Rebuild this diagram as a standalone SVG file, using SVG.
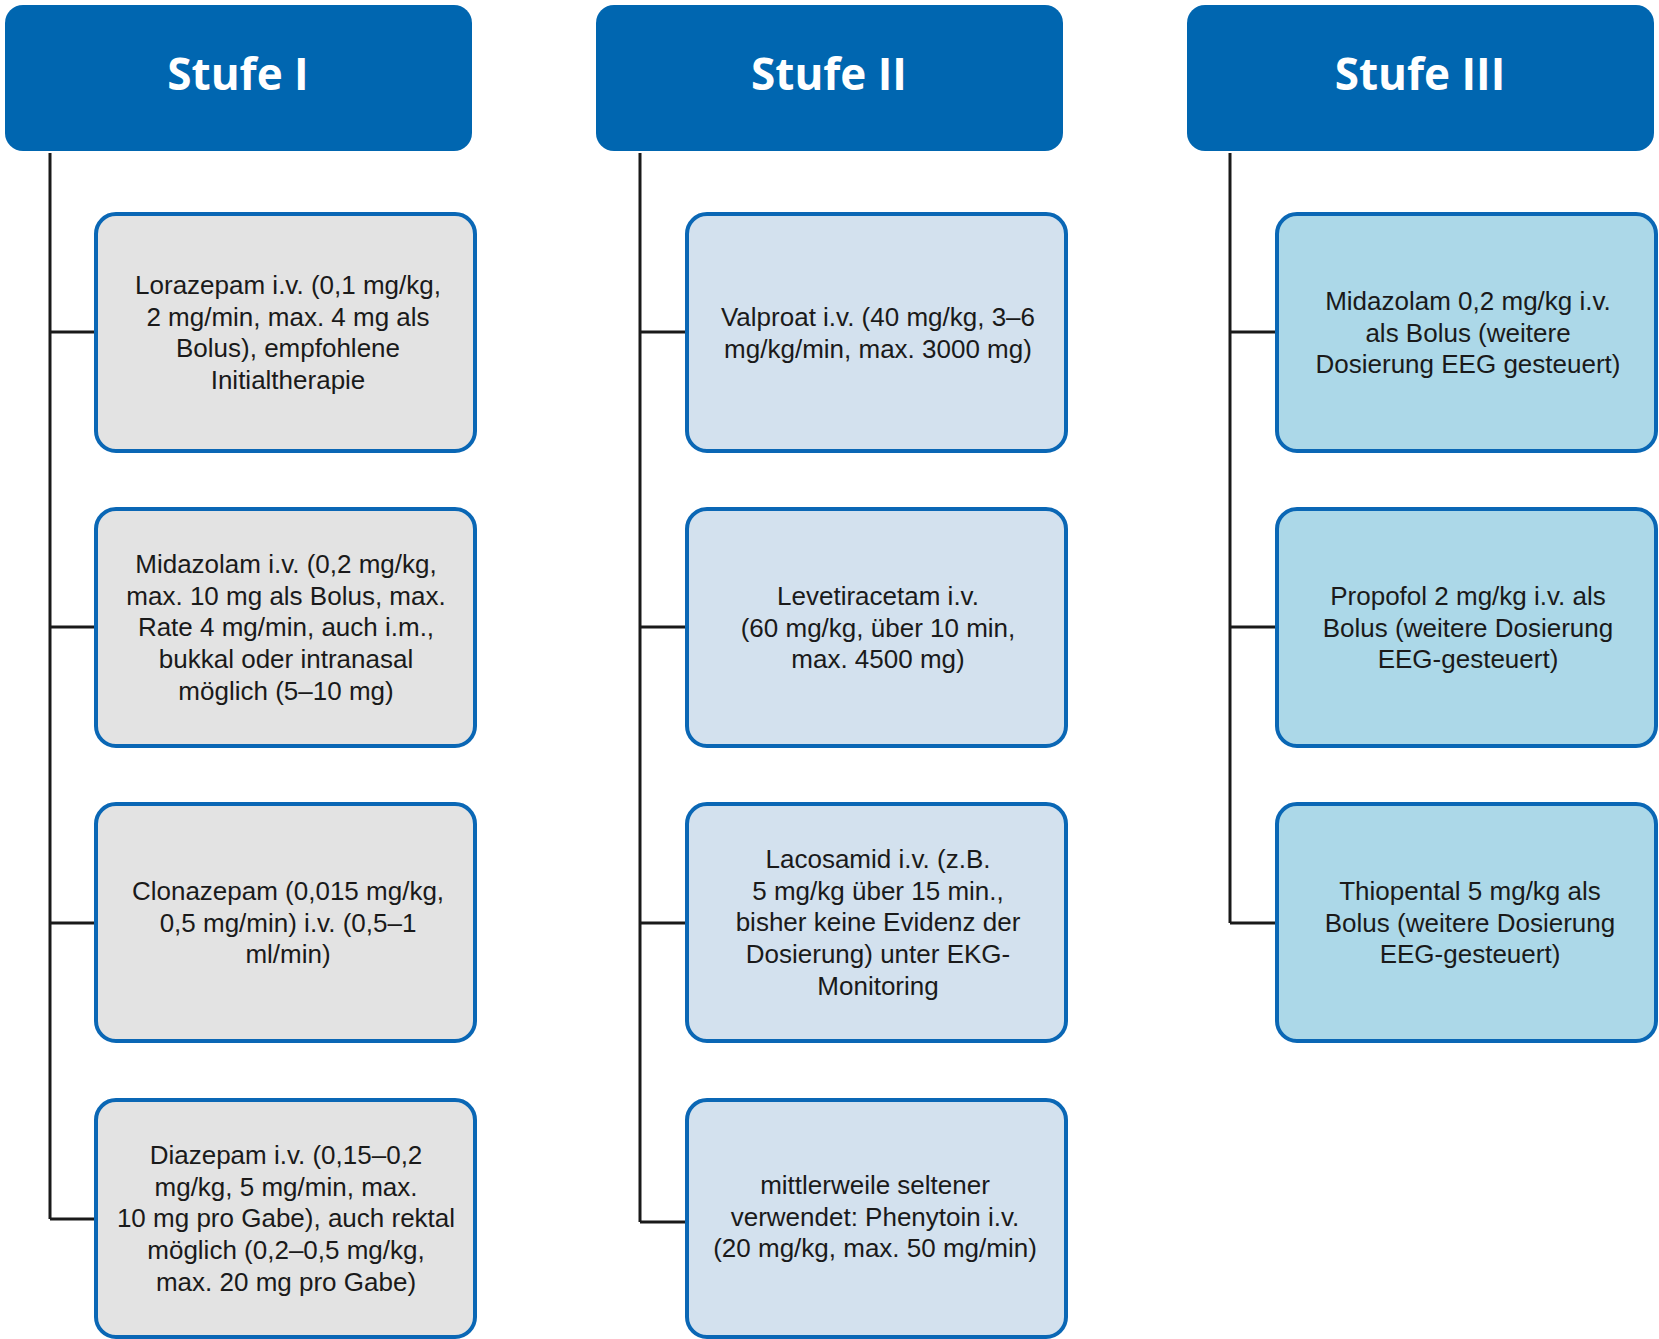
<svg xmlns="http://www.w3.org/2000/svg" width="1659" height="1339" viewBox="0 0 1659 1339">
<style>
.h{fill:#0066b0}
.ht{fill:#fff;font:bold 44px "Open Sans","Liberation Sans",sans-serif;text-anchor:middle}
.b{stroke:#0a67b5;stroke-width:4}
.g{fill:#e3e3e3}.l{fill:#d3e1ee}.c{fill:#acd8e8}
.t{fill:#1a1a1a;font:26px "Liberation Sans",sans-serif;text-anchor:middle}
.k{stroke:#1a1a1a;stroke-width:3;fill:none}
</style>
<g id="connectors">
<path class="k" d="M50 153V1219M50 332H96M50 627H96M50 923H96M50 1219H96"/>
<path class="k" d="M640 153V1222M640 332H687M640 627H687M640 923H687M640 1222H687"/>
<path class="k" d="M1230 153V923M1230 332H1277M1230 627H1277M1230 923H1277"/>
</g>
<g id="h1"><rect class="h" x="5" y="5" width="467" height="146" rx="18"/><text class="ht" x="238" y="90">Stufe I</text></g>
<g id="h2"><rect class="h" x="596" y="5" width="467" height="146" rx="18"/><text class="ht" x="829" y="90">Stufe II</text></g>
<g id="h3"><rect class="h" x="1187" y="5" width="467" height="146" rx="18"/><text class="ht" x="1420" y="90">Stufe III</text></g>

<g id="n1"><rect class="b g" x="96" y="214" width="379" height="237" rx="20"/><text class="t"><tspan x="288" y="294">Lorazepam i.v. (0,1 mg/kg,</tspan><tspan x="288" dy="31.7">2 mg/min, max. 4 mg als</tspan><tspan x="288" dy="31.7">Bolus), empfohlene</tspan><tspan x="288" dy="31.7">Initialtherapie</tspan></text></g>
<g id="n2"><rect class="b g" x="96" y="509" width="379" height="237" rx="20"/><text class="t"><tspan x="286" y="573">Midazolam i.v. (0,2 mg/kg,</tspan><tspan x="286" dy="31.7">max. 10 mg als Bolus, max.</tspan><tspan x="286" dy="31.7">Rate 4 mg/min, auch i.m.,</tspan><tspan x="286" dy="31.7">bukkal oder intranasal</tspan><tspan x="286" dy="31.7">möglich (5–10 mg)</tspan></text></g>
<g id="n3"><rect class="b g" x="96" y="804" width="379" height="237" rx="20"/><text class="t"><tspan x="288" y="900">Clonazepam (0,015 mg/kg,</tspan><tspan x="288" dy="31.7">0,5 mg/min) i.v. (0,5–1</tspan><tspan x="288" dy="31.7">ml/min)</tspan></text></g>
<g id="n4"><rect class="b g" x="96" y="1100" width="379" height="237" rx="20"/><text class="t"><tspan x="286" y="1164">Diazepam i.v. (0,15–0,2</tspan><tspan x="286" dy="31.7">mg/kg, 5 mg/min, max.</tspan><tspan x="286" dy="31.7">10 mg pro Gabe), auch rektal</tspan><tspan x="286" dy="31.7">möglich (0,2–0,5 mg/kg,</tspan><tspan x="286" dy="31.7">max. 20 mg pro Gabe)</tspan></text></g>

<g id="n5"><rect class="b l" x="687" y="214" width="379" height="237" rx="20"/><text class="t"><tspan x="878" y="326">Valproat i.v. (40 mg/kg, 3–6</tspan><tspan x="878" dy="31.7">mg/kg/min, max. 3000 mg)</tspan></text></g>
<g id="n6"><rect class="b l" x="687" y="509" width="379" height="237" rx="20"/><text class="t"><tspan x="878" y="605">Levetiracetam i.v.</tspan><tspan x="878" dy="31.7">(60 mg/kg, über 10 min,</tspan><tspan x="878" dy="31.7">max. 4500 mg)</tspan></text></g>
<g id="n7"><rect class="b l" x="687" y="804" width="379" height="237" rx="20"/><text class="t"><tspan x="878" y="868">Lacosamid i.v. (z.B.</tspan><tspan x="878" dy="31.7">5 mg/kg über 15 min.,</tspan><tspan x="878" dy="31.7">bisher keine Evidenz der</tspan><tspan x="878" dy="31.7">Dosierung) unter EKG-</tspan><tspan x="878" dy="31.7">Monitoring</tspan></text></g>
<g id="n8"><rect class="b l" x="687" y="1100" width="379" height="237" rx="20"/><text class="t"><tspan x="875" y="1194">mittlerweile seltener</tspan><tspan x="875" dy="31.7">verwendet: Phenytoin i.v.</tspan><tspan x="875" dy="31.7">(20 mg/kg, max. 50 mg/min)</tspan></text></g>

<g id="n9"><rect class="b c" x="1277" y="214" width="379" height="237" rx="20"/><text class="t"><tspan x="1468" y="310">Midazolam 0,2 mg/kg i.v.</tspan><tspan x="1468" dy="31.7">als Bolus (weitere</tspan><tspan x="1468" dy="31.7">Dosierung EEG gesteuert)</tspan></text></g>
<g id="n10"><rect class="b c" x="1277" y="509" width="379" height="237" rx="20"/><text class="t"><tspan x="1468" y="605">Propofol 2 mg/kg i.v. als</tspan><tspan x="1468" dy="31.7">Bolus (weitere Dosierung</tspan><tspan x="1468" dy="31.7">EEG-gesteuert)</tspan></text></g>
<g id="n11"><rect class="b c" x="1277" y="804" width="379" height="237" rx="20"/><text class="t"><tspan x="1470" y="900">Thiopental 5 mg/kg als</tspan><tspan x="1470" dy="31.7">Bolus (weitere Dosierung</tspan><tspan x="1470" dy="31.7">EEG-gesteuert)</tspan></text></g>
</svg>
